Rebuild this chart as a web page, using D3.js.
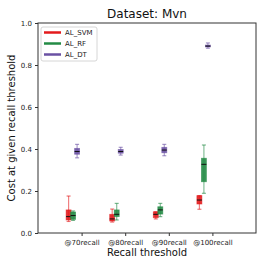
<!DOCTYPE html>
<html>
<head>
<meta charset="utf-8">
<script src="https://cdn.jsdelivr.net/npm/d3@7"></script>
<style>
  body { margin: 0; background: #fff; }
  text { font-family: "DejaVu Sans", sans-serif; }
</style>
</head>
<body>
<div id="wrapper"></div>
<script>
const thresholds = ["@70recall", "@80recall", "@90recall", "@100recall"];
const methods = ["AL_SVM", "AL_RF", "AL_DT"];
const colors = ["#e31a1c", "#238b45", "#6a51a3"];
const yTicks = [0, 0.2, 0.4, 0.6, 0.8, 1.0];

// [whiskerLow, q1, median, q3, whiskerHigh] per threshold
const svmStats = [
    [0.055, 0.062, 0.078, 0.110, 0.176],
    [0.052, 0.057, 0.067, 0.089, 0.114],
    [0.067, 0.073, 0.089, 0.101, 0.101],
    [0.113, 0.138, 0.157, 0.178, 0.178],
];
const rfStats = [
    [0.060, 0.065, 0.083, 0.100, 0.105],
    [0.062, 0.078, 0.089, 0.110, 0.141],
    [0.078, 0.090, 0.110, 0.125, 0.141],
    [0.189, 0.244, 0.327, 0.356, 0.419],
];
const dtStats = [
    [0.358, 0.375, 0.388, 0.403, 0.422],
    [0.371, 0.380, 0.388, 0.398, 0.408],
    [0.368, 0.382, 0.395, 0.408, 0.422],
    [0.880, 0.886, 0.890, 0.895, 0.905],
];
const allStats = [svmStats, rfStats, dtStats];
const offsets = [-13, -8.5, -4.5];

const dimensions = {
    width: 266,
    height: 266,
    margin: { top: 23, right: 10, bottom: 33, left: 38 },
};
dimensions.boundedWidth = dimensions.width - dimensions.margin.left - dimensions.margin.right;
dimensions.boundedHeight = dimensions.height - dimensions.margin.top - dimensions.margin.bottom;

const wrapper = d3.select("#wrapper")
    .append("svg")
        .attr("width", dimensions.width)
        .attr("height", dimensions.height);

const bounds = wrapper.append("g")
    .attr("transform", `translate(${dimensions.margin.left},${dimensions.margin.top})`);

const xScale = d3.scalePoint()
    .domain(thresholds)
    .range([0, dimensions.boundedWidth])
    .padding(1);

const yScale = d3.scaleLinear()
    .domain([0, 1])
    .range([dimensions.boundedHeight, 0]);

const boxW = 5;
allStats.forEach((stats, mi) => {
    const g = bounds.append("g");
    stats.forEach((s, ti) => {
        const cx = xScale(thresholds[ti]) + offsets[mi];
        const [lo, q1, med, q3, hi] = s;
        g.append("line")
            .attr("x1", cx).attr("x2", cx)
            .attr("y1", yScale(lo)).attr("y2", yScale(hi))
            .attr("stroke", colors[mi]).attr("stroke-opacity", 0.55).attr("stroke-width", 1.2);
        [lo, hi].forEach(v => {
            g.append("line")
                .attr("x1", cx - 2).attr("x2", cx + 2)
                .attr("y1", yScale(v)).attr("y2", yScale(v))
                .attr("stroke", colors[mi]).attr("stroke-opacity", 0.6).attr("stroke-width", 1.2);
        });
        g.append("rect")
            .attr("x", cx - boxW / 2)
            .attr("width", boxW)
            .attr("y", yScale(q3))
            .attr("height", Math.max(yScale(q1) - yScale(q3), 1.5))
            .attr("fill", colors[mi])
            .attr("fill-opacity", 0.9)
            .attr("stroke", colors[mi])
            .attr("stroke-opacity", 0.6)
            .attr("stroke-width", 0.8);
        g.append("line")
            .attr("x1", cx - boxW / 2).attr("x2", cx + boxW / 2)
            .attr("y1", yScale(med)).attr("y2", yScale(med))
            .attr("stroke", "#111").attr("stroke-width", 1);
    });
});

// axes
const yAxis = bounds.append("g")
    .call(d3.axisLeft(yScale).tickValues(yTicks).tickFormat(d3.format(".1f")).tickSize(3).tickSizeOuter(0));
const xAxis = bounds.append("g")
    .attr("transform", `translate(0,${dimensions.boundedHeight})`)
    .call(d3.axisBottom(xScale).tickSize(3).tickSizeOuter(0));
[yAxis, xAxis].forEach(ax => {
    ax.select(".domain").remove();
    ax.selectAll("line").attr("stroke", "#333");
    ax.selectAll("text").attr("font-size", 7).attr("fill", "#222");
});
xAxis.selectAll("text").attr("dy", "0.9em");

bounds.append("rect")
    .attr("width", dimensions.boundedWidth)
    .attr("height", dimensions.boundedHeight)
    .attr("fill", "none")
    .attr("stroke", "#333")
    .attr("stroke-width", 1);

// legend
const legend = bounds.append("g").attr("transform", "translate(3,4)");
legend.append("rect")
    .attr("width", 56).attr("height", 34).attr("rx", 2)
    .attr("fill", "#fff").attr("fill-opacity", 0.8)
    .attr("stroke", "#ccc").attr("stroke-width", 0.8);
methods.forEach((m, i) => {
    const y = 5.5 + i * 11;
    legend.append("line")
        .attr("x1", 3).attr("x2", 20)
        .attr("y1", y).attr("y2", y)
        .attr("stroke", colors[i]).attr("stroke-width", 2.5);
    legend.append("text")
        .attr("x", 24).attr("y", y)
        .attr("dy", "0.35em")
        .attr("font-size", 7)
        .attr("fill", "#222")
        .text(m);
});

// labels
wrapper.append("text")
    .attr("x", dimensions.margin.left + dimensions.boundedWidth / 2)
    .attr("y", 18)
    .attr("text-anchor", "middle")
    .attr("font-size", 12)
    .attr("fill", "#111")
    .text("Dataset: Mvn");

wrapper.append("text")
    .attr("x", dimensions.margin.left + dimensions.boundedWidth / 2)
    .attr("y", 256)
    .attr("text-anchor", "middle")
    .attr("font-size", 10)
    .attr("fill", "#111")
    .text("Recall threshold");

wrapper.append("text")
    .attr("transform", `translate(15,${dimensions.margin.top + dimensions.boundedHeight / 2}) rotate(-90)`)
    .attr("text-anchor", "middle")
    .attr("font-size", 10)
    .attr("fill", "#111")
    .text("Cost at given recall threshold");
</script>
</body>
</html>
